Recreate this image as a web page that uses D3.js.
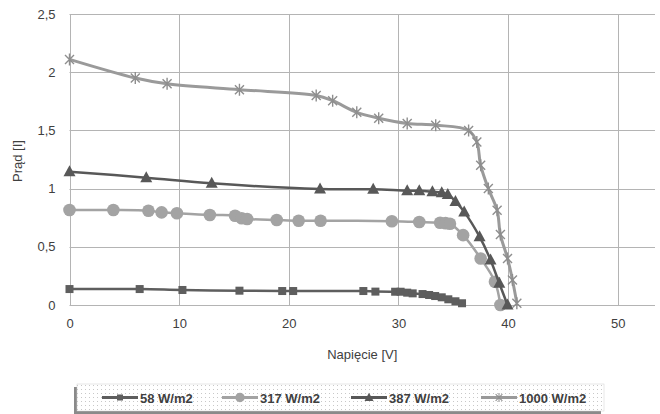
<!DOCTYPE html>
<html lang="pl">
<head>
<meta charset="utf-8">
<title>Charakterystyka I-V</title>
<script src="https://d3js.org/d3.v7.min.js"></script>
<style>
  body { margin: 0; background: #fff; }
  svg text { font-family: "Liberation Sans", "DejaVu Sans", sans-serif; fill: #404040; }
</style>
</head>
<body>
<div id="chart"></div>
<script>
// values: [U (V), I]
var seriesNames = ["58 W/m2", "317 W/m2", "387 W/m2", "1000 W/m2"];
var s58 = [[0,0.137],[6.4,0.137],[10.3,0.129],[15.5,0.123],[19.4,0.12],[20.4,0.12],[26.8,0.12],[27.9,0.115],
  [29.7,0.114],[30.2,0.114],[30.8,0.106],[31.3,0.1],[32.2,0.094],[32.8,0.086],[33.35,0.077],[33.95,0.066],
  [34.55,0.049],[35.2,0.032],[35.8,0.015]];
var s317 = [[0,0.816],[4,0.816],[7.2,0.81],[8.4,0.796],[9.8,0.788],[12.8,0.773],[15.1,0.767],[15.7,0.745],
  [16.2,0.739],[18.9,0.73],[20.9,0.724],[22.9,0.724],[29.4,0.72],[31.9,0.713],[33.8,0.706],[34.3,0.703],
  [34.7,0.698],[35.9,0.6],[37.5,0.4],[38.8,0.2],[39.3,0.0]];
var s387 = [[0,1.145],[7,1.094],[12.97,1.045],[22.85,0.996],[27.7,0.994],[30.8,0.982],[31.9,0.982],
  [33.1,0.973],[33.95,0.965],[34.5,0.95],[35.2,0.89],[36.0,0.8],[37.4,0.587],[38.4,0.387],[39.2,0.186],[39.95,0.0]];
var s1000 = [[0,2.11],[6,1.95],[8.9,1.9],[15.5,1.85],[22.5,1.8],[24,1.755],[26.2,1.655],[28.2,1.605],
  [30.8,1.56],[33.4,1.545],[36.4,1.5],[37.15,1.4],[37.5,1.2],[38.2,1.0],[39.0,0.815],[39.3,0.605],
  [39.95,0.4],[40.4,0.215],[40.8,0.015]];
var xTicks = [0, 10, 20, 30, 40, 50];
var yTicks = [0, 0.5, 1, 1.5, 2, 2.5];

(function() {
var W = 660, H = 414;
var pLeft = 69.5, pRight = 655, pTop = 14, pBottom = 305;

var pl = d3.formatLocale({decimal: ",", thousands: " ", grouping: [3], currency: ["", " zł"]});
var fmt = pl.format("~");

var x = d3.scaleLinear().domain([0, 53.4]).range([pLeft, pRight]);
var y = d3.scaleLinear().domain([0, 2.5]).range([pBottom, pTop]);

var svg = d3.select("#chart").append("svg").attr("width", W).attr("height", H);

// grid
svg.append("g")
  .selectAll("line").data(xTicks).enter().append("line")
  .attr("x1", function(d){ return Math.round(x(d)) + 0.5; })
  .attr("x2", function(d){ return Math.round(x(d)) + 0.5; })
  .attr("y1", pTop).attr("y2", pBottom)
  .attr("stroke", "#b4b4b4");
svg.append("g")
  .selectAll("line").data(yTicks).enter().append("line")
  .attr("x1", pLeft).attr("x2", pRight)
  .attr("y1", function(d){ return Math.round(y(d)) + 0.5; })
  .attr("y2", function(d){ return Math.round(y(d)) + 0.5; })
  .attr("stroke", "#b4b4b4");

// tick labels via d3 axes
var xAxis = d3.axisBottom(x).tickValues(xTicks).tickSize(0).tickPadding(14).tickFormat(fmt);
var gx = svg.append("g").attr("transform", "translate(0," + pBottom + ")").call(xAxis);
gx.select(".domain").remove();
gx.selectAll("text").style("font-size", "13px").attr("fill", "#404040");

var yAxis = d3.axisLeft(y).tickValues(yTicks).tickSize(0).tickPadding(14).tickFormat(fmt);
var gy = svg.append("g").attr("transform", "translate(" + pLeft + ",0)").call(yAxis);
gy.select(".domain").remove();
gy.selectAll("text").style("font-size", "13px").attr("fill", "#404040");

svg.append("text").attr("x", (pLeft + pRight) / 2).attr("y", 359)
  .attr("text-anchor", "middle").style("font-size", "13px").text("Napięcie [V]");
svg.append("text").attr("transform", "translate(22,161) rotate(-90)")
  .attr("text-anchor", "middle").style("font-size", "13px").text("Prąd [I]");

// series
var styles = [
  {data: s58, color: "#5e5e5e", width: 2.5, marker: "square"},
  {data: s317, color: "#a3a3a3", width: 2.5, marker: "circle"},
  {data: s387, color: "#585858", width: 2.5, marker: "triangle"},
  {data: s1000, color: "#9a9a9a", width: 3, marker: "star"}
];

var line = d3.line()
  .x(function(d){ return x(d[0]); })
  .y(function(d){ return y(d[1]); })
  .curve(d3.curveCatmullRom.alpha(0.5));

function drawMarker(g, type, color) {
  if (type === "square") {
    g.append("rect").attr("x", -4).attr("y", -4).attr("width", 8).attr("height", 8).attr("fill", color);
  } else if (type === "circle") {
    g.append("circle").attr("r", 6.3).attr("fill", color);
  } else if (type === "triangle") {
    g.append("path").attr("d", "M0,-6.5L6,4.5L-6,4.5Z").attr("fill", color);
  } else {
    g.append("path").attr("d", "M-4.5,-4.5L4.5,4.5M-4.5,4.5L4.5,-4.5M0,-6L0,6")
      .attr("stroke", "#8e8e8e").attr("stroke-width", 1.4).attr("fill", "none");
  }
}

styles.forEach(function(s) {
  svg.append("path").datum(s.data).attr("d", line)
    .attr("fill", "none").attr("stroke", s.color).attr("stroke-width", s.width)
    .attr("stroke-linejoin", "round");
  svg.append("g").selectAll("g").data(s.data).enter().append("g")
    .attr("transform", function(d){ return "translate(" + x(d[0]) + "," + y(d[1]) + ")"; })
    .each(function(){ drawMarker(d3.select(this), s.marker, s.color); });
});

// legend
var defs = svg.append("defs");
var pat = defs.append("pattern").attr("id", "dots").attr("width", 4).attr("height", 4)
  .attr("patternUnits", "userSpaceOnUse");
pat.append("rect").attr("width", 4).attr("height", 4).attr("fill", "#fff");
pat.append("rect").attr("x", 1).attr("y", 1).attr("width", 1).attr("height", 1).attr("fill", "#c8c8c8");

var lx = 77, ly = 384, lw = 527, lh = 27;
svg.append("rect").attr("x", lx - 3).attr("y", ly + 3).attr("width", lw).attr("height", lh).attr("fill", "#8a8a8a");
svg.append("rect").attr("x", lx).attr("y", ly).attr("width", lw).attr("height", lh)
  .attr("fill", "url(#dots)").attr("stroke", "#d0d0d0").attr("stroke-width", 0.5);

var legX = [102, 222, 351, 481];
var leg = svg.append("g").selectAll("g").data(styles).enter().append("g")
  .attr("transform", function(d, i){ return "translate(" + legX[i] + "," + (ly + lh / 2) + ")"; });
leg.append("line").attr("x1", 0).attr("x2", 36).attr("y1", 0).attr("y2", 0)
  .attr("stroke", function(d){ return d.color; }).attr("stroke-width", 3);
leg.each(function(d){
  var g = d3.select(this).append("g").attr("transform", "translate(18,0) scale(0.75)");
  drawMarker(g, d.marker, d.color);
});
leg.append("text").attr("x", 38).attr("y", 5).style("font-size", "13px").style("font-weight", "bold")
  .attr("fill", "#404040")
  .text(function(d, i){ return seriesNames[i]; });
})();
</script>
</body>
</html>
